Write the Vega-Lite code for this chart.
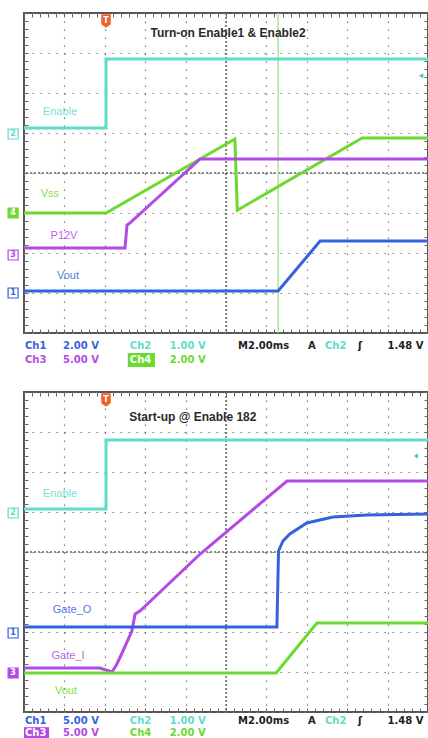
{
  "$schema": "https://vega.github.io/schema/vega-lite/v6.json",
  "background": "white",
  "padding": {"left": 4, "top": 11, "right": 0, "bottom": 0},
  "spacing": 59,
  "bounds": "flush",
  "config": {"view": {"stroke": "#555555", "strokeWidth": 2}},
  "datasets": {
    "A": [
      {"k": "tr", "ch": "Ch2", "i": 0, "t": 0, "v": 1.125},
      {"k": "tr", "ch": "Ch2", "i": 1, "t": 2.03, "v": 1.125},
      {"k": "tr", "ch": "Ch2", "i": 2, "t": 2.03, "v": 2.85},
      {"k": "tr", "ch": "Ch2", "i": 3, "t": 10, "v": 2.85},
      {"k": "tr", "ch": "Ch4", "i": 0, "t": 0, "v": -1.0},
      {"k": "tr", "ch": "Ch4", "i": 1, "t": 2.03, "v": -1.0},
      {"k": "tr", "ch": "Ch4", "i": 2, "t": 5.22, "v": 0.85},
      {"k": "tr", "ch": "Ch4", "i": 3, "t": 5.28, "v": -0.93},
      {"k": "tr", "ch": "Ch4", "i": 4, "t": 8.37, "v": 0.875},
      {"k": "tr", "ch": "Ch4", "i": 5, "t": 10, "v": 0.875},
      {"k": "tr", "ch": "Ch3", "i": 0, "t": 0, "v": -1.875},
      {"k": "tr", "ch": "Ch3", "i": 1, "t": 2.5, "v": -1.875},
      {"k": "tr", "ch": "Ch3", "i": 2, "t": 2.55, "v": -1.3},
      {"k": "tr", "ch": "Ch3", "i": 3, "t": 2.62, "v": -1.25},
      {"k": "tr", "ch": "Ch3", "i": 4, "t": 4.36, "v": 0.35},
      {"k": "tr", "ch": "Ch3", "i": 5, "t": 10, "v": 0.35},
      {"k": "tr", "ch": "Ch1", "i": 0, "t": 0, "v": -2.95},
      {"k": "tr", "ch": "Ch1", "i": 1, "t": 6.29, "v": -2.95},
      {"k": "tr", "ch": "Ch1", "i": 2, "t": 7.33, "v": -1.7},
      {"k": "tr", "ch": "Ch1", "i": 3, "t": 10, "v": -1.7},
      {"k": "lb", "ch": "Ch2", "t": 0.89, "v": 1.525, "txt": "Enable"},
      {"k": "lb", "ch": "Ch4", "t": 0.64, "v": -0.525, "txt": "Vss"},
      {"k": "lb", "ch": "Ch3", "t": 0.99, "v": -1.575, "txt": "P12V"},
      {"k": "lb", "ch": "Ch1", "t": 1.09, "v": -2.575, "txt": "Vout"},
      {"k": "mk", "ch": "Ch2", "t": -0.27, "v": 0.975, "txt": "2", "hl": false},
      {"k": "mk", "ch": "Ch4", "t": -0.27, "v": -1.0, "txt": "4", "hl": true},
      {"k": "mk", "ch": "Ch3", "t": -0.27, "v": -2.05, "txt": "3", "hl": false},
      {"k": "mk", "ch": "Ch1", "t": -0.27, "v": -3.0, "txt": "1", "hl": false},
      {"k": "ti", "t": 5.05, "v": 3.5, "txt": "Turn-on Enable1 & Enable2"},
      {"k": "cu", "t": 6.29},
      {"k": "cx", "t": 5},
      {"k": "cy", "v": 0},
      {"k": "tg", "t": 2.03, "v": 3.8, "txt": "T"},
      {"k": "lv", "ch": "Ch2", "t": 9.83, "v": 2.43},
      {"k": "bx", "ch": "Ch4", "t": 2.57, "t2": 3.24, "v": -4.5, "v2": -4.85},
      {"k": "rd", "ch": "Ch1", "t": 0.025, "v": -4.325, "txt": "Ch1", "hl": false},
      {"k": "rd", "ch": "Ch1", "t": 0.965, "v": -4.325, "txt": "2.00 V", "hl": false},
      {"k": "rd", "ch": "Ch2", "t": 2.62, "v": -4.325, "txt": "Ch2", "hl": false},
      {"k": "rd", "ch": "Ch2", "t": 3.61, "v": -4.325, "txt": "1.00 V", "hl": false},
      {"k": "rd", "ch": "Sys", "t": 5.3, "v": -4.325, "txt": "M2.00ms", "hl": false},
      {"k": "rd", "ch": "Sys", "t": 7.03, "v": -4.325, "txt": "A", "hl": false},
      {"k": "rd", "ch": "Ch2", "t": 7.45, "v": -4.325, "txt": "Ch2", "hl": false},
      {"k": "rd", "ch": "Sys", "t": 8.27, "v": -4.325, "txt": "ʃ", "hl": false},
      {"k": "rd", "ch": "Sys", "t": 9.0, "v": -4.325, "txt": "1.48 V", "hl": false},
      {"k": "rd", "ch": "Ch3", "t": 0.025, "v": -4.675, "txt": "Ch3", "hl": false},
      {"k": "rd", "ch": "Ch3", "t": 0.965, "v": -4.675, "txt": "5.00 V", "hl": false},
      {"k": "rd", "ch": "Ch4", "t": 2.62, "v": -4.675, "txt": "Ch4", "hl": true},
      {"k": "rd", "ch": "Ch4", "t": 3.61, "v": -4.675, "txt": "2.00 V", "hl": false}
    ],
    "B": [
      {"k": "tr", "ch": "Ch2", "i": 0, "t": 0, "v": 1.075},
      {"k": "tr", "ch": "Ch2", "i": 1, "t": 2.03, "v": 1.075},
      {"k": "tr", "ch": "Ch2", "i": 2, "t": 2.03, "v": 2.8},
      {"k": "tr", "ch": "Ch2", "i": 3, "t": 10, "v": 2.8},
      {"k": "tr", "ch": "Ch3", "i": 0, "t": 0, "v": -2.9},
      {"k": "tr", "ch": "Ch3", "i": 1, "t": 1.88, "v": -2.9},
      {"k": "tr", "ch": "Ch3", "i": 2, "t": 2.18, "v": -3.0},
      {"k": "tr", "ch": "Ch3", "i": 3, "t": 2.3, "v": -2.8},
      {"k": "tr", "ch": "Ch3", "i": 4, "t": 2.45, "v": -2.475},
      {"k": "tr", "ch": "Ch3", "i": 5, "t": 2.67, "v": -1.975},
      {"k": "tr", "ch": "Ch3", "i": 6, "t": 2.75, "v": -1.55},
      {"k": "tr", "ch": "Ch3", "i": 7, "t": 2.87, "v": -1.475},
      {"k": "tr", "ch": "Ch3", "i": 8, "t": 4.36, "v": -0.05},
      {"k": "tr", "ch": "Ch3", "i": 9, "t": 6.51, "v": 1.775},
      {"k": "tr", "ch": "Ch3", "i": 10, "t": 10, "v": 1.775},
      {"k": "tr", "ch": "Ch1", "i": 0, "t": 0, "v": -1.875},
      {"k": "tr", "ch": "Ch1", "i": 1, "t": 6.26, "v": -1.875},
      {"k": "tr", "ch": "Ch1", "i": 2, "t": 6.3, "v": 0.025},
      {"k": "tr", "ch": "Ch1", "i": 3, "t": 6.41, "v": 0.275},
      {"k": "tr", "ch": "Ch1", "i": 4, "t": 6.58, "v": 0.45},
      {"k": "tr", "ch": "Ch1", "i": 5, "t": 7.0, "v": 0.725},
      {"k": "tr", "ch": "Ch1", "i": 6, "t": 7.65, "v": 0.875},
      {"k": "tr", "ch": "Ch1", "i": 7, "t": 8.49, "v": 0.925},
      {"k": "tr", "ch": "Ch1", "i": 8, "t": 10, "v": 0.95},
      {"k": "tr", "ch": "Ch4", "i": 0, "t": 0, "v": -3.025},
      {"k": "tr", "ch": "Ch4", "i": 1, "t": 6.24, "v": -3.025},
      {"k": "tr", "ch": "Ch4", "i": 2, "t": 7.25, "v": -1.775},
      {"k": "tr", "ch": "Ch4", "i": 3, "t": 10, "v": -1.775},
      {"k": "lb", "ch": "Ch2", "t": 0.89, "v": 1.45, "txt": "Enable"},
      {"k": "lb", "ch": "Ch1", "t": 1.19, "v": -1.45, "txt": "Gate_O"},
      {"k": "lb", "ch": "Ch3", "t": 1.09, "v": -2.6, "txt": "Gate_I"},
      {"k": "lb", "ch": "Ch4", "t": 1.04, "v": -3.475, "txt": "Vout"},
      {"k": "mk", "ch": "Ch2", "t": -0.27, "v": 0.975, "txt": "2", "hl": false},
      {"k": "mk", "ch": "Ch1", "t": -0.27, "v": -2.025, "txt": "1", "hl": false},
      {"k": "mk", "ch": "Ch3", "t": -0.27, "v": -3.025, "txt": "3", "hl": true},
      {"k": "ti", "t": 4.18, "v": 3.375, "txt": "Start-up @ Enable 182"},
      {"k": "cx", "t": 5},
      {"k": "cy", "v": 0},
      {"k": "tg", "t": 2.03, "v": 3.8, "txt": "T"},
      {"k": "lv", "ch": "Ch2", "t": 9.7, "v": 2.4},
      {"k": "bx", "ch": "Ch3", "t": 0.0, "t2": 0.62, "v": -4.38, "v2": -4.68},
      {"k": "rd", "ch": "Ch1", "t": 0.025, "v": -4.22, "txt": "Ch1", "hl": false},
      {"k": "rd", "ch": "Ch1", "t": 0.965, "v": -4.22, "txt": "5.00 V", "hl": false},
      {"k": "rd", "ch": "Ch2", "t": 2.62, "v": -4.22, "txt": "Ch2", "hl": false},
      {"k": "rd", "ch": "Ch2", "t": 3.61, "v": -4.22, "txt": "1.00 V", "hl": false},
      {"k": "rd", "ch": "Sys", "t": 5.3, "v": -4.22, "txt": "M2.00ms", "hl": false},
      {"k": "rd", "ch": "Sys", "t": 7.03, "v": -4.22, "txt": "A", "hl": false},
      {"k": "rd", "ch": "Ch2", "t": 7.45, "v": -4.22, "txt": "Ch2", "hl": false},
      {"k": "rd", "ch": "Sys", "t": 8.27, "v": -4.22, "txt": "ʃ", "hl": false},
      {"k": "rd", "ch": "Sys", "t": 9.0, "v": -4.22, "txt": "1.48 V", "hl": false},
      {"k": "rd", "ch": "Ch3", "t": 0.025, "v": -4.53, "txt": "Ch3", "hl": true},
      {"k": "rd", "ch": "Ch3", "t": 0.965, "v": -4.53, "txt": "5.00 V", "hl": false},
      {"k": "rd", "ch": "Ch4", "t": 2.62, "v": -4.53, "txt": "Ch4", "hl": false},
      {"k": "rd", "ch": "Ch4", "t": 3.61, "v": -4.53, "txt": "2.00 V", "hl": false}
    ]
  },
  "vconcat": [
    {
      "width": 404, "height": 320,
      "data": {"name": "A"},
      "resolve": {"axis": {"x": "independent", "y": "independent"}},
      "layer": [
        {"transform": [{"filter": "datum.k === 'cx'"}], "mark": {"type": "rule", "color": "#666666", "strokeWidth": 1.5, "strokeDash": [2, 2]},
         "encoding": {"x": {"field": "t", "type": "quantitative", "scale": {"domain": [0, 10], "nice": false, "zero": false},
           "axis": {"orient": "top", "values": [0,0.2,0.4,0.6,0.8,1,1.2,1.4,1.6,1.8,2,2.2,2.4,2.6,2.8,3,3.2,3.4,3.6,3.8,4,4.2,4.4,4.6,4.8,5,5.2,5.4,5.6,5.8,6,6.2,6.4,6.6,6.8,7,7.2,7.4,7.6,7.8,8,8.2,8.4,8.6,8.8,9,9.2,9.4,9.6,9.8,10], "tickSize": -4, "tickColor": "#666666", "labels": false, "domain": false, "grid": false, "title": null}}}},
        {"transform": [{"filter": "datum.k === 'cy'"}], "mark": {"type": "rule", "color": "#666666", "strokeWidth": 1.5, "strokeDash": [2, 2]},
         "encoding": {"y": {"field": "v", "type": "quantitative", "scale": {"domain": [-4, 4], "nice": false, "zero": false},
           "axis": {"orient": "right", "values": [-4,-3.8,-3.6,-3.4,-3.2,-3,-2.8,-2.6,-2.4,-2.2,-2,-1.8,-1.6,-1.4,-1.2,-1,-0.8,-0.6,-0.4,-0.2,0,0.2,0.4,0.6,0.8,1,1.2,1.4,1.6,1.8,2,2.2,2.4,2.6,2.8,3,3.2,3.4,3.6,3.8,4], "tickSize": -4, "tickColor": "#666666", "labels": false, "domain": false, "grid": false, "title": null}}}},
        {"transform": [{"filter": "datum.k === 'cu'"}], "mark": {"type": "rule", "color": "#a6e894", "strokeWidth": 1.5},
         "encoding": {"x": {"field": "t", "type": "quantitative", "scale": {"domain": [0, 10], "nice": false, "zero": false}, "axis": null}}},
        {"transform": [{"filter": "datum.k === 'tr'"}], "mark": {"type": "line", "strokeWidth": 3, "interpolate": "linear"},
         "encoding": {
           "x": {"field": "t", "type": "quantitative", "scale": {"domain": [0, 10], "nice": false, "zero": false},
             "axis": {"orient": "bottom", "values": [0,1,2,3,4,5,6,7,8,9,10], "grid": true, "gridDash": [1.5, 6.5], "gridColor": "#777777", "gridWidth": 1.2, "ticks": false, "labels": false, "domain": false, "title": null}},
           "y": {"field": "v", "type": "quantitative", "scale": {"domain": [-4, 4], "nice": false, "zero": false},
             "axis": {"orient": "left", "values": [-4,-3,-2,-1,0,1,2,3,4], "grid": true, "gridDash": [1.5, 6.5], "gridColor": "#777777", "gridWidth": 1.2, "ticks": false, "labels": false, "domain": false, "title": null}},
           "color": {"field": "ch", "type": "nominal", "scale": {"domain": ["Ch1", "Ch2", "Ch3", "Ch4", "Sys"], "range": ["#3562dd", "#5fdcc9", "#b14be4", "#6cd92f", "#222222"]}, "legend": null},
           "order": {"field": "i", "type": "quantitative"}
         }},
        {"transform": [{"filter": "datum.k === 'lb'"}], "mark": {"type": "text", "font": "Liberation Sans", "fontSize": 11, "align": "center", "baseline": "middle", "opacity": 0.85},
         "encoding": {
           "x": {"field": "t", "type": "quantitative", "scale": {"domain": [0, 10], "nice": false, "zero": false}, "axis": null},
           "y": {"field": "v", "type": "quantitative", "scale": {"domain": [-4, 4], "nice": false, "zero": false}, "axis": null},
           "text": {"field": "txt"},
           "color": {"field": "ch", "type": "nominal", "scale": {"domain": ["Ch1", "Ch2", "Ch3", "Ch4", "Sys"], "range": ["#3562dd", "#5fdcc9", "#b14be4", "#6cd92f", "#222222"]}, "legend": null}
         }},
        {"transform": [{"filter": "datum.k === 'bx'"}], "mark": {"type": "rect"},
         "encoding": {
           "x": {"field": "t", "type": "quantitative", "scale": {"domain": [0, 10], "nice": false, "zero": false}, "axis": null},
           "x2": {"field": "t2"},
           "y": {"field": "v", "type": "quantitative", "scale": {"domain": [-4, 4], "nice": false, "zero": false}, "axis": null},
           "y2": {"field": "v2"},
           "color": {"field": "ch", "type": "nominal", "scale": {"domain": ["Ch1", "Ch2", "Ch3", "Ch4", "Sys"], "range": ["#3562dd", "#5fdcc9", "#b14be4", "#6cd92f", "#222222"]}, "legend": null}
         }},
        {"transform": [{"filter": "datum.k === 'mk'"}], "mark": {"type": "point", "shape": "square", "size": 100, "filled": true, "strokeWidth": 1.2, "opacity": 1},
         "encoding": {
           "x": {"field": "t", "type": "quantitative", "scale": {"domain": [0, 10], "nice": false, "zero": false}, "axis": null},
           "y": {"field": "v", "type": "quantitative", "scale": {"domain": [-4, 4], "nice": false, "zero": false}, "axis": null},
           "stroke": {"field": "ch", "type": "nominal", "scale": {"domain": ["Ch1", "Ch2", "Ch3", "Ch4", "Sys"], "range": ["#3562dd", "#5fdcc9", "#b14be4", "#6cd92f", "#222222"]}, "legend": null},
           "fill": {"condition": {"test": "!datum.hl", "value": "white"}, "field": "ch", "type": "nominal", "scale": {"domain": ["Ch1", "Ch2", "Ch3", "Ch4", "Sys"], "range": ["#3562dd", "#5fdcc9", "#b14be4", "#6cd92f", "#222222"]}, "legend": null}
         }},
        {"transform": [{"filter": "datum.k === 'mk'"}], "mark": {"type": "text", "font": "DejaVu Sans", "fontSize": 8, "fontWeight": "bold", "align": "center", "baseline": "middle"},
         "encoding": {
           "x": {"field": "t", "type": "quantitative", "scale": {"domain": [0, 10], "nice": false, "zero": false}, "axis": null},
           "y": {"field": "v", "type": "quantitative", "scale": {"domain": [-4, 4], "nice": false, "zero": false}, "axis": null},
           "text": {"field": "txt"},
           "color": {"condition": {"test": "datum.hl", "value": "white"}, "field": "ch", "type": "nominal", "scale": {"domain": ["Ch1", "Ch2", "Ch3", "Ch4", "Sys"], "range": ["#3562dd", "#5fdcc9", "#b14be4", "#6cd92f", "#222222"]}, "legend": null}
         }},
        {"transform": [{"filter": "datum.k === 'ti'"}], "mark": {"type": "text", "font": "Liberation Sans", "fontSize": 12, "fontWeight": "bold", "align": "center", "baseline": "middle", "color": "#2a2a2a"},
         "encoding": {
           "x": {"field": "t", "type": "quantitative", "scale": {"domain": [0, 10], "nice": false, "zero": false},
             "axis": {"orient": "bottom", "values": [0,0.2,0.4,0.6,0.8,1,1.2,1.4,1.6,1.8,2,2.2,2.4,2.6,2.8,3,3.2,3.4,3.6,3.8,4,4.2,4.4,4.6,4.8,5,5.2,5.4,5.6,5.8,6,6.2,6.4,6.6,6.8,7,7.2,7.4,7.6,7.8,8,8.2,8.4,8.6,8.8,9,9.2,9.4,9.6,9.8,10], "tickSize": -4, "tickColor": "#666666", "labels": false, "domain": false, "grid": false, "title": null}},
           "y": {"field": "v", "type": "quantitative", "scale": {"domain": [-4, 4], "nice": false, "zero": false},
             "axis": {"orient": "left", "values": [-4,-3.8,-3.6,-3.4,-3.2,-3,-2.8,-2.6,-2.4,-2.2,-2,-1.8,-1.6,-1.4,-1.2,-1,-0.8,-0.6,-0.4,-0.2,0,0.2,0.4,0.6,0.8,1,1.2,1.4,1.6,1.8,2,2.2,2.4,2.6,2.8,3,3.2,3.4,3.6,3.8,4], "tickSize": -4, "tickColor": "#666666", "labels": false, "domain": false, "grid": false, "title": null}},
           "text": {"field": "txt"}
         }},
        {"transform": [{"filter": "datum.k === 'tg'"}], "mark": {"type": "point", "shape": "M-1,-1.4L1,-1.4L1,0.7L0,1.4L-1,0.7Z", "size": 90, "filled": true, "color": "#f0602a", "opacity": 1},
         "encoding": {
           "x": {"field": "t", "type": "quantitative", "scale": {"domain": [0, 10], "nice": false, "zero": false}, "axis": null},
           "y": {"field": "v", "type": "quantitative", "scale": {"domain": [-4, 4], "nice": false, "zero": false}, "axis": null}
         }},
        {"transform": [{"filter": "datum.k === 'tg'"}], "mark": {"type": "text", "font": "DejaVu Sans", "fontSize": 8, "fontWeight": "bold", "align": "center", "baseline": "middle", "color": "white"},
         "encoding": {
           "x": {"field": "t", "type": "quantitative", "scale": {"domain": [0, 10], "nice": false, "zero": false}, "axis": null},
           "y": {"field": "v", "type": "quantitative", "scale": {"domain": [-4, 4], "nice": false, "zero": false}, "axis": null},
           "text": {"field": "txt"}
         }},
        {"transform": [{"filter": "datum.k === 'lv'"}], "mark": {"type": "point", "shape": "triangle-left", "size": 25, "filled": true, "color": "#3fc9b0", "opacity": 1},
         "encoding": {
           "x": {"field": "t", "type": "quantitative", "scale": {"domain": [0, 10], "nice": false, "zero": false}, "axis": null},
           "y": {"field": "v", "type": "quantitative", "scale": {"domain": [-4, 4], "nice": false, "zero": false}, "axis": null}
         }},
        {"transform": [{"filter": "datum.k === 'rd'"}], "mark": {"type": "text", "font": "DejaVu Sans", "fontSize": 10, "fontWeight": "bold", "align": "left", "baseline": "middle"},
         "encoding": {
           "x": {"field": "t", "type": "quantitative", "scale": {"domain": [0, 10], "nice": false, "zero": false}, "axis": null},
           "y": {"field": "v", "type": "quantitative", "scale": {"domain": [-4, 4], "nice": false, "zero": false}, "axis": null},
           "text": {"field": "txt"},
           "color": {"condition": {"test": "datum.hl", "value": "white"}, "field": "ch", "type": "nominal", "scale": {"domain": ["Ch1", "Ch2", "Ch3", "Ch4", "Sys"], "range": ["#5656d6", "#5fd6c4", "#a650e8", "#5cc82a", "#222222"]}, "legend": null}
         }}
      ]
    },
    {
      "width": 404, "height": 320,
      "data": {"name": "B"},
      "resolve": {"axis": {"x": "independent", "y": "independent"}},
      "layer": [
        {"transform": [{"filter": "datum.k === 'cx'"}], "mark": {"type": "rule", "color": "#666666", "strokeWidth": 1.5, "strokeDash": [2, 2]},
         "encoding": {"x": {"field": "t", "type": "quantitative", "scale": {"domain": [0, 10], "nice": false, "zero": false},
           "axis": {"orient": "top", "values": [0,0.2,0.4,0.6,0.8,1,1.2,1.4,1.6,1.8,2,2.2,2.4,2.6,2.8,3,3.2,3.4,3.6,3.8,4,4.2,4.4,4.6,4.8,5,5.2,5.4,5.6,5.8,6,6.2,6.4,6.6,6.8,7,7.2,7.4,7.6,7.8,8,8.2,8.4,8.6,8.8,9,9.2,9.4,9.6,9.8,10], "tickSize": -4, "tickColor": "#666666", "labels": false, "domain": false, "grid": false, "title": null}}}},
        {"transform": [{"filter": "datum.k === 'cy'"}], "mark": {"type": "rule", "color": "#666666", "strokeWidth": 1.5, "strokeDash": [2, 2]},
         "encoding": {"y": {"field": "v", "type": "quantitative", "scale": {"domain": [-4, 4], "nice": false, "zero": false},
           "axis": {"orient": "right", "values": [-4,-3.8,-3.6,-3.4,-3.2,-3,-2.8,-2.6,-2.4,-2.2,-2,-1.8,-1.6,-1.4,-1.2,-1,-0.8,-0.6,-0.4,-0.2,0,0.2,0.4,0.6,0.8,1,1.2,1.4,1.6,1.8,2,2.2,2.4,2.6,2.8,3,3.2,3.4,3.6,3.8,4], "tickSize": -4, "tickColor": "#666666", "labels": false, "domain": false, "grid": false, "title": null}}}},
        {"transform": [{"filter": "datum.k === 'tr'"}], "mark": {"type": "line", "strokeWidth": 3, "interpolate": "linear"},
         "encoding": {
           "x": {"field": "t", "type": "quantitative", "scale": {"domain": [0, 10], "nice": false, "zero": false},
             "axis": {"orient": "bottom", "values": [0,1,2,3,4,5,6,7,8,9,10], "grid": true, "gridDash": [1.5, 6.5], "gridColor": "#777777", "gridWidth": 1.2, "ticks": false, "labels": false, "domain": false, "title": null}},
           "y": {"field": "v", "type": "quantitative", "scale": {"domain": [-4, 4], "nice": false, "zero": false},
             "axis": {"orient": "left", "values": [-4,-3,-2,-1,0,1,2,3,4], "grid": true, "gridDash": [1.5, 6.5], "gridColor": "#777777", "gridWidth": 1.2, "ticks": false, "labels": false, "domain": false, "title": null}},
           "color": {"field": "ch", "type": "nominal", "scale": {"domain": ["Ch1", "Ch2", "Ch3", "Ch4", "Sys"], "range": ["#3562dd", "#5fdcc9", "#b14be4", "#6cd92f", "#222222"]}, "legend": null},
           "order": {"field": "i", "type": "quantitative"}
         }},
        {"transform": [{"filter": "datum.k === 'lb'"}], "mark": {"type": "text", "font": "Liberation Sans", "fontSize": 11, "align": "center", "baseline": "middle", "opacity": 0.85},
         "encoding": {
           "x": {"field": "t", "type": "quantitative", "scale": {"domain": [0, 10], "nice": false, "zero": false}, "axis": null},
           "y": {"field": "v", "type": "quantitative", "scale": {"domain": [-4, 4], "nice": false, "zero": false}, "axis": null},
           "text": {"field": "txt"},
           "color": {"field": "ch", "type": "nominal", "scale": {"domain": ["Ch1", "Ch2", "Ch3", "Ch4", "Sys"], "range": ["#3562dd", "#5fdcc9", "#b14be4", "#6cd92f", "#222222"]}, "legend": null}
         }},
        {"transform": [{"filter": "datum.k === 'bx'"}], "mark": {"type": "rect"},
         "encoding": {
           "x": {"field": "t", "type": "quantitative", "scale": {"domain": [0, 10], "nice": false, "zero": false}, "axis": null},
           "x2": {"field": "t2"},
           "y": {"field": "v", "type": "quantitative", "scale": {"domain": [-4, 4], "nice": false, "zero": false}, "axis": null},
           "y2": {"field": "v2"},
           "color": {"field": "ch", "type": "nominal", "scale": {"domain": ["Ch1", "Ch2", "Ch3", "Ch4", "Sys"], "range": ["#3562dd", "#5fdcc9", "#b14be4", "#6cd92f", "#222222"]}, "legend": null}
         }},
        {"transform": [{"filter": "datum.k === 'mk'"}], "mark": {"type": "point", "shape": "square", "size": 100, "filled": true, "strokeWidth": 1.2, "opacity": 1},
         "encoding": {
           "x": {"field": "t", "type": "quantitative", "scale": {"domain": [0, 10], "nice": false, "zero": false}, "axis": null},
           "y": {"field": "v", "type": "quantitative", "scale": {"domain": [-4, 4], "nice": false, "zero": false}, "axis": null},
           "stroke": {"field": "ch", "type": "nominal", "scale": {"domain": ["Ch1", "Ch2", "Ch3", "Ch4", "Sys"], "range": ["#3562dd", "#5fdcc9", "#b14be4", "#6cd92f", "#222222"]}, "legend": null},
           "fill": {"condition": {"test": "!datum.hl", "value": "white"}, "field": "ch", "type": "nominal", "scale": {"domain": ["Ch1", "Ch2", "Ch3", "Ch4", "Sys"], "range": ["#3562dd", "#5fdcc9", "#b14be4", "#6cd92f", "#222222"]}, "legend": null}
         }},
        {"transform": [{"filter": "datum.k === 'mk'"}], "mark": {"type": "text", "font": "DejaVu Sans", "fontSize": 8, "fontWeight": "bold", "align": "center", "baseline": "middle"},
         "encoding": {
           "x": {"field": "t", "type": "quantitative", "scale": {"domain": [0, 10], "nice": false, "zero": false}, "axis": null},
           "y": {"field": "v", "type": "quantitative", "scale": {"domain": [-4, 4], "nice": false, "zero": false}, "axis": null},
           "text": {"field": "txt"},
           "color": {"condition": {"test": "datum.hl", "value": "white"}, "field": "ch", "type": "nominal", "scale": {"domain": ["Ch1", "Ch2", "Ch3", "Ch4", "Sys"], "range": ["#3562dd", "#5fdcc9", "#b14be4", "#6cd92f", "#222222"]}, "legend": null}
         }},
        {"transform": [{"filter": "datum.k === 'ti'"}], "mark": {"type": "text", "font": "Liberation Sans", "fontSize": 12, "fontWeight": "bold", "align": "center", "baseline": "middle", "color": "#2a2a2a"},
         "encoding": {
           "x": {"field": "t", "type": "quantitative", "scale": {"domain": [0, 10], "nice": false, "zero": false},
             "axis": {"orient": "bottom", "values": [0,0.2,0.4,0.6,0.8,1,1.2,1.4,1.6,1.8,2,2.2,2.4,2.6,2.8,3,3.2,3.4,3.6,3.8,4,4.2,4.4,4.6,4.8,5,5.2,5.4,5.6,5.8,6,6.2,6.4,6.6,6.8,7,7.2,7.4,7.6,7.8,8,8.2,8.4,8.6,8.8,9,9.2,9.4,9.6,9.8,10], "tickSize": -4, "tickColor": "#666666", "labels": false, "domain": false, "grid": false, "title": null}},
           "y": {"field": "v", "type": "quantitative", "scale": {"domain": [-4, 4], "nice": false, "zero": false},
             "axis": {"orient": "left", "values": [-4,-3.8,-3.6,-3.4,-3.2,-3,-2.8,-2.6,-2.4,-2.2,-2,-1.8,-1.6,-1.4,-1.2,-1,-0.8,-0.6,-0.4,-0.2,0,0.2,0.4,0.6,0.8,1,1.2,1.4,1.6,1.8,2,2.2,2.4,2.6,2.8,3,3.2,3.4,3.6,3.8,4], "tickSize": -4, "tickColor": "#666666", "labels": false, "domain": false, "grid": false, "title": null}},
           "text": {"field": "txt"}
         }},
        {"transform": [{"filter": "datum.k === 'tg'"}], "mark": {"type": "point", "shape": "M-1,-1.4L1,-1.4L1,0.7L0,1.4L-1,0.7Z", "size": 90, "filled": true, "color": "#f0602a", "opacity": 1},
         "encoding": {
           "x": {"field": "t", "type": "quantitative", "scale": {"domain": [0, 10], "nice": false, "zero": false}, "axis": null},
           "y": {"field": "v", "type": "quantitative", "scale": {"domain": [-4, 4], "nice": false, "zero": false}, "axis": null}
         }},
        {"transform": [{"filter": "datum.k === 'tg'"}], "mark": {"type": "text", "font": "DejaVu Sans", "fontSize": 8, "fontWeight": "bold", "align": "center", "baseline": "middle", "color": "white"},
         "encoding": {
           "x": {"field": "t", "type": "quantitative", "scale": {"domain": [0, 10], "nice": false, "zero": false}, "axis": null},
           "y": {"field": "v", "type": "quantitative", "scale": {"domain": [-4, 4], "nice": false, "zero": false}, "axis": null},
           "text": {"field": "txt"}
         }},
        {"transform": [{"filter": "datum.k === 'lv'"}], "mark": {"type": "point", "shape": "triangle-left", "size": 25, "filled": true, "color": "#3fc9b0", "opacity": 1},
         "encoding": {
           "x": {"field": "t", "type": "quantitative", "scale": {"domain": [0, 10], "nice": false, "zero": false}, "axis": null},
           "y": {"field": "v", "type": "quantitative", "scale": {"domain": [-4, 4], "nice": false, "zero": false}, "axis": null}
         }},
        {"transform": [{"filter": "datum.k === 'rd'"}], "mark": {"type": "text", "font": "DejaVu Sans", "fontSize": 10, "fontWeight": "bold", "align": "left", "baseline": "middle"},
         "encoding": {
           "x": {"field": "t", "type": "quantitative", "scale": {"domain": [0, 10], "nice": false, "zero": false}, "axis": null},
           "y": {"field": "v", "type": "quantitative", "scale": {"domain": [-4, 4], "nice": false, "zero": false}, "axis": null},
           "text": {"field": "txt"},
           "color": {"condition": {"test": "datum.hl", "value": "white"}, "field": "ch", "type": "nominal", "scale": {"domain": ["Ch1", "Ch2", "Ch3", "Ch4", "Sys"], "range": ["#5656d6", "#5fd6c4", "#a650e8", "#5cc82a", "#222222"]}, "legend": null}
         }}
      ]
    }
  ]
}
